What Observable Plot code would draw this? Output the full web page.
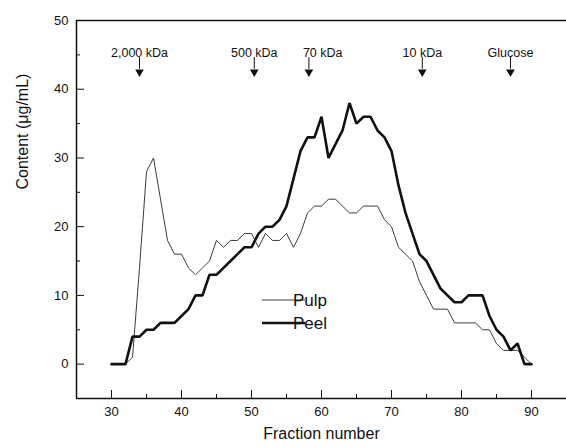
<!DOCTYPE html>
<html>
<head>
<meta charset="utf-8">
<script src="https://cdn.jsdelivr.net/npm/d3@7"></script>
<script src="https://cdn.jsdelivr.net/npm/@observablehq/plot@0.6"></script>
<style>
  html, body { margin: 0; padding: 0; background: #fff; }
  #chart { width: 566px; height: 448px; }
</style>
</head>
<body>
<div id="chart"></div>
<script>
// Fraction numbers (x)
const fraction = [30,31,32,33,34,35,36,37,38,39,40,41,42,43,44,45,46,47,48,49,
                  50,51,52,53,54,55,56,57,58,59,60,61,62,63,64,65,66,67,68,69,
                  70,71,72,73,74,75,76,77,78,79,80,81,82,83,84,85,86,87,88,89,90];
// Content (µg/mL)
const pulp = [0,0,0,1,14,28,30,24,18,16,16,14,13,14,15,18,17,18,18,19,
              19,17,19,18,18,19,17,19,22,23,23,24,24,23,22,22,23,23,23,21,
              20,17,16,15,12,10,8,8,8,6,6,6,6,5,5,3,2,2,2,1,0];
const peel = [0,0,0,4,4,5,5,6,6,6,7,8,10,10,13,13,14,15,16,17,
              17,19,20,20,21,23,27,31,33,33,36,30,32,34,38,35,36,36,34,33,
              31,26,22,19,16,15,13,11,10,9,9,10,10,10,7,5,4,2,3,0,0];
// Molecular-weight markers
const markerLabels = ["2,000 kDa", "500 kDa", "70 kDa", "10 kDa", "Glucose"];
const markerFractions = [34, 50.4, 58.2, 74.4, 87];
// Axis ticks
const xTicks = [30, 40, 50, 60, 70, 80, 90];
const xMinor = [35, 45, 55, 65, 75, 85];
const yTicks = [0, 10, 20, 30, 40, 50];
const yMinor = [5, 15, 25, 35, 45];
const seriesNames = ["Pulp", "Peel"];

const markers = markerLabels.map((label, i) => ({label, f: markerFractions[i]}));
const centered = markers.filter(d => d.label !== "70 kDa");
const leftAligned = markers.filter(d => d.label === "70 kDa");

const chart = Plot.plot({
  width: 566,
  height: 448,
  marginLeft: 76,
  marginRight: 0,
  marginTop: 20,
  marginBottom: 50,
  x: {domain: [25, 95]},
  y: {domain: [-5, 50]},
  style: {fontFamily: "'Liberation Sans', Arial, sans-serif", fontSize: "13px", color: "#111", background: "#fff", overflow: "visible"},
  marks: [
    // frame lines (left, top, bottom)
    Plot.ruleX([25], {stroke: "#111", strokeWidth: 1.5}),
    Plot.ruleY([50], {stroke: "#111", strokeWidth: 1.5}),
    Plot.ruleY([-5], {stroke: "#111", strokeWidth: 1.5}),
    // x axis
    Plot.axisX({ticks: xTicks, tickSize: 0, tickPadding: 8, label: null, fontSize: 13}),
    Plot.axisX({ticks: xTicks, tickSize: -8, fill: "none", label: null}),
    Plot.axisX({ticks: xMinor, tickSize: -4, fill: "none", label: null}),
    // y axis
    Plot.axisY({ticks: yTicks, tickSize: 0, tickPadding: 8, label: null, fontSize: 13}),
    Plot.axisY({ticks: yTicks, tickSize: -8, fill: "none", label: null}),
    Plot.axisY({ticks: yMinor, tickSize: -4, fill: "none", label: null}),
    // axis titles
    Plot.text(["Fraction number"], {frameAnchor: "bottom", dy: 40, fontSize: 16}),
    Plot.text(["Content (\u03bcg/mL)"], {frameAnchor: "left", rotate: -90, dx: -54, dy: -20, fontSize: 16}),
    // data
    Plot.lineY(pulp, {x: fraction, stroke: "#3a3a3a", strokeWidth: 1}),
    Plot.lineY(peel, {x: fraction, stroke: "#111", strokeWidth: 2.6, strokeLinejoin: "miter"}),
    // MW markers
    Plot.text(centered, {x: "f", text: "label", frameAnchor: "top", dy: 28, fontSize: 12.5, textAnchor: "middle"}),
    Plot.text(leftAligned, {x: "f", text: "label", frameAnchor: "top", dy: 28, fontSize: 12.5, textAnchor: "start", dx: -6}),
    Plot.ruleX(markers, {x: "f", y1: 44.6, y2: 42.9, stroke: "#111", strokeWidth: 1}),
    Plot.dot(markers, {x: "f", y: 42.5, symbol: "triangle", rotate: 180, r: 3.2, fill: "#111", stroke: "none"})
  ]
});

// Legend (inside plot area)
const svg = d3.select(chart);
const leg = svg.append("g").attr("font-family", "'Liberation Sans', Arial, sans-serif").attr("font-size", 17).attr("fill", "#111");
seriesNames.forEach((name, i) => {
  const y = 300 + i * 23;
  leg.append("line").attr("x1", 262).attr("x2", 305).attr("y1", y).attr("y2", y)
    .attr("stroke", i === 0 ? "#3a3a3a" : "#111").attr("stroke-width", i === 0 ? 1 : 2.6);
  leg.append("text").attr("x", 310).attr("y", y).attr("dy", "0.35em").text(name);
});

document.getElementById("chart").appendChild(chart);
</script>
</body>
</html>
